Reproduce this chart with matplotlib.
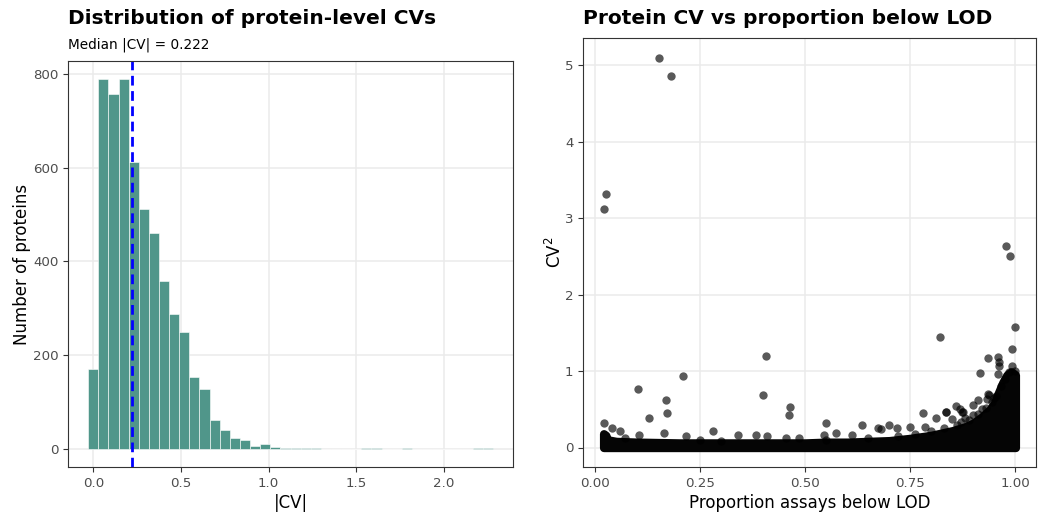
import numpy as np
import matplotlib.pyplot as plt

# ---- histogram of |CV| (40 bins) ----
bin_width = 0.0577
hist_counts = [170, 788, 757, 788, 612, 511, 460, 358, 287, 248,
               153, 127, 60, 39, 23, 18, 6, 9, 4, 2,
               1, 1, 1, 0, 0, 0, 0, 1, 1, 0,
               0, 2, 0, 0, 0, 0, 0, 0, 1, 1]
median_cv = 0.222

# ---- CV^2 vs proportion below LOD ----
# dense core of overlapping points: upper envelope of the black band
core_x = [0.02, 0.025, 0.03, 0.05, 0.10, 0.20, 0.30, 0.40, 0.50, 0.55, 0.60, 0.65,
          0.70, 0.75, 0.80, 0.85, 0.88, 0.90, 0.92, 0.94, 0.95, 0.96, 0.97, 0.98,
          0.99, 1.00]
core_top = [0.18, 0.16, 0.10, 0.08, 0.07, 0.06, 0.06, 0.06, 0.06, 0.07, 0.07, 0.08,
            0.09, 0.12, 0.16, 0.22, 0.27, 0.32, 0.40, 0.50, 0.58, 0.72, 0.85, 0.95,
            0.99, 0.95]

# individually visible points
pt_x = [0.153, 0.181, 0.026, 0.021, 0.977, 0.987, 0.998, 0.993, 0.821, 0.407,
        0.935, 0.959, 0.962, 0.959, 0.915, 0.993, 0.961, 0.209, 0.102, 0.399,
        0.169, 0.170, 0.464, 0.462, 0.127, 0.022, 0.280, 0.040, 0.058, 0.104,
        0.163, 0.215, 0.340, 0.382, 0.409, 0.453, 0.484, 0.549, 0.634, 0.780,
        0.812, 0.836, 0.858, 0.867, 0.876, 0.849, 0.881, 0.900, 0.912, 0.932,
        0.937, 0.935, 0.673, 0.699, 0.718, 0.749, 0.786, 0.610, 0.573, 0.544,
        0.680, 0.873, 0.835, 0.070, 0.250, 0.300, 0.550, 0.650, 0.720, 0.760,
        0.800, 0.830, 0.860, 0.890, 0.910, 0.930, 0.950, 0.965, 0.975, 0.985,
        1.000, 0.900, 0.920, 0.945, 0.870, 0.955]
pt_y = [5.09, 4.86, 3.32, 3.12, 2.63, 2.51, 1.58, 1.29, 1.44, 1.20,
        1.17, 1.18, 1.12, 0.96, 0.98, 1.07, 1.06, 0.94, 0.77, 0.69,
        0.62, 0.45, 0.53, 0.43, 0.38, 0.32, 0.22, 0.25, 0.21, 0.16,
        0.19, 0.15, 0.17, 0.16, 0.15, 0.13, 0.12, 0.32, 0.29, 0.45,
        0.39, 0.46, 0.54, 0.51, 0.46, 0.37, 0.38, 0.56, 0.62, 0.63,
        0.69, 0.70, 0.25, 0.30, 0.25, 0.27, 0.27, 0.17, 0.19, 0.16,
        0.24, 0.47, 0.47, 0.12, 0.10, 0.09, 0.10, 0.12, 0.15, 0.18,
        0.22, 0.25, 0.30, 0.36, 0.44, 0.52, 0.65, 0.80, 0.90, 0.99,
        1.00, 0.42, 0.50, 0.60, 0.33, 0.68]

GRID = '#ebebeb'
BORDER = '#333333'
TICKLAB = '#4d4d4d'


def style_axes(ax):
    ax.set_facecolor('white')
    ax.grid(True, color=GRID, linewidth=1.1)
    ax.set_axisbelow(True)
    for s in ax.spines.values():
        s.set_color(BORDER)
        s.set_linewidth(0.8)
    ax.tick_params(colors=BORDER, labelcolor=TICKLAB, labelsize=9.6,
                   length=3.5, width=0.8)


fig = plt.figure(figsize=(10.38, 5.14), dpi=100)
W, H = 1038, 514

# left panel
ax1 = fig.add_axes([68 / W, (H - 467) / H, (513 - 68) / W, (467 - 61) / H])
style_axes(ax1)
centers = np.arange(len(hist_counts)) * bin_width
ax1.bar(centers, hist_counts, width=bin_width, color='#50968a',
        edgecolor='white', linewidth=0.4)
ax1.axvline(median_cv, color='#0000ff', linewidth=2, linestyle=(0, (3.5, 2)))
lo, hi = centers[0] - bin_width / 2, centers[-1] + bin_width / 2
pad = (hi - lo) * 0.05
ax1.set_xlim(lo - pad, hi + pad)
ax1.set_ylim(-0.05 * max(hist_counts), 1.05 * max(hist_counts))
ax1.set_xticks([0.0, 0.5, 1.0, 1.5, 2.0])
ax1.set_yticks([0, 200, 400, 600, 800])
ax1.set_xlabel('|CV|', fontsize=12, labelpad=3)
ax1.set_ylabel('Number of proteins', fontsize=12, labelpad=1)

# right panel
ax2 = fig.add_axes([583 / W, (H - 467) / H, (1036 - 583) / W, (467 - 38) / H])
style_axes(ax2)
ax2.fill_between(core_x, 0, core_top, color='#050505', edgecolor='#050505',
                 linewidth=6, joinstyle='round', zorder=2)
ax2.scatter(pt_x, pt_y, s=36, color='black', alpha=0.65, linewidths=0, zorder=3)
ax2.set_xlim(-0.029, 1.049)
ax2.set_ylim(-0.255, 5.355)
ax2.set_xticks([0.0, 0.25, 0.5, 0.75, 1.0])
ax2.set_xticklabels(['0.00', '0.25', '0.50', '0.75', '1.00'])
ax2.set_yticks([0, 1, 2, 3, 4, 5])
ax2.set_xlabel('Proportion assays below LOD', fontsize=12, labelpad=3)
ax2.set_ylabel('CV$^2$', fontsize=12, labelpad=0)

# titles
fig.text(68 / W, (H - 24) / H, 'Distribution of protein-level CVs',
         fontsize=14.5, fontweight='bold', va='baseline', ha='left')
fig.text(68 / W, (H - 48.5) / H, 'Median |CV| = 0.222',
         fontsize=9.8, va='baseline', ha='left')
fig.text(583 / W, (H - 24) / H, 'Protein CV vs proportion below LOD',
         fontsize=14.5, fontweight='bold', va='baseline', ha='left')

fig.savefig('out.png', dpi=100)
